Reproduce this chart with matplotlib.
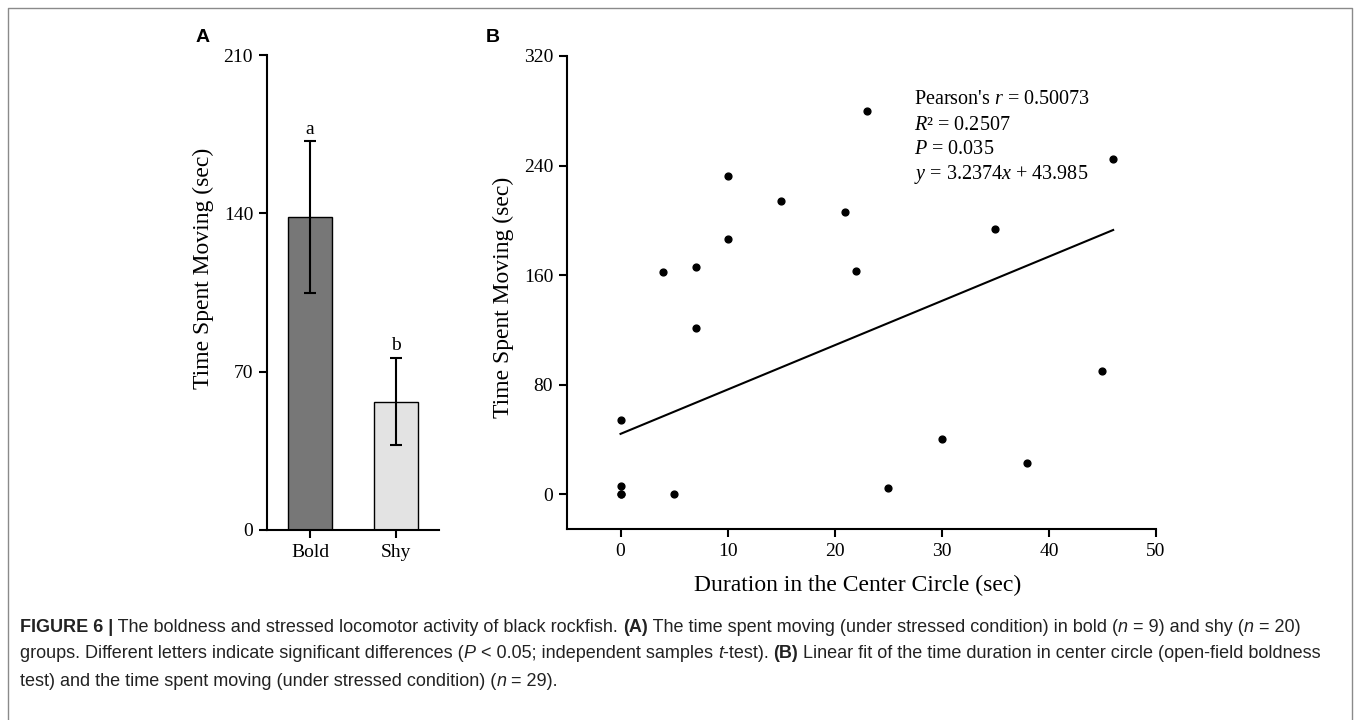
import matplotlib
matplotlib.use("Agg")
import matplotlib.pyplot as plt
from matplotlib.lines import Line2D

plt.rcParams['font.family'] = ['Liberation Serif', 'DejaVu Serif']
plt.rcParams['mathtext.fontset'] = 'custom'
plt.rcParams['mathtext.it'] = 'Liberation Serif:italic'
plt.rcParams['mathtext.rm'] = 'Liberation Serif'

# panel A data
groups = ['Bold', 'Shy']
means = [138.2, 56.8]
errs = [33.6, 19.4]
letters = ['a', 'b']
bar_colors = ['#777777', '#e3e3e3']

# panel B data
dur = [0, 0, 0, 0, 5, 4, 7, 7, 10, 10, 15, 21, 22, 23, 25, 30, 35, 38, 45, 46]
moving = [54, 5.7, 0, 0, 0, 162, 166, 121, 232, 186, 214, 206, 163, 280, 4.7, 40, 193.5, 22.7, 90, 244.6]
slope = 3.2374
intercept = 43.985
fit_text = ["Pearson's $r$ = 0.50073", "$R$\u00b2 = 0.2507", "$P$ = 0.035",
            "$y$ = 3.2374$x$ + 43.985"]

W, H = 1358, 720
fig = plt.figure(figsize=(W / 100, H / 100), dpi=100)


def px(x0, y0, x1, y1):
    return [x0 / W, 1 - y1 / H, (x1 - x0) / W, (y1 - y0) / H]


def style(ax):
    for s in ['top', 'right']:
        ax.spines[s].set_visible(False)
    for s in ['left', 'bottom']:
        ax.spines[s].set_linewidth(1.5)
    ax.tick_params(width=1.5, length=6, labelsize=14, pad=4)


# ---- A ----
A_box = (267, 55, 439, 530)
axA = fig.add_axes(px(*A_box))
xs = list(range(len(groups)))
axA.bar(xs, means, width=0.51, color=bar_colors, edgecolor='black', linewidth=1)
axA.errorbar(xs, means, yerr=errs, fmt='none', ecolor='black', elinewidth=1.5,
             capsize=4, capthick=1.5)
for i in xs:
    axA.text(i, means[i] + errs[i] + 1.5, letters[i], ha='center', va='bottom', fontsize=14)
axA.set_xlim(-0.5, 1.5)
axA.set_ylim(0, 210)
axA.set_yticks([0, 70, 140, 210])
axA.set_xticks(xs)
axA.set_xticklabels(groups)
style(axA)
axA.set_ylabel('Time Spent Moving (sec)', fontsize=17)
axA.yaxis.set_label_coords((214 - 267) / 172, 0.55)
fig.text(203 / W, 1 - 38 / H, 'A', family='Liberation Sans', weight='bold',
         fontsize=14, ha='center', va='center')

# ---- B ----
B_box = (567, 56, 1156, 529)
axB = fig.add_axes(px(*B_box))
bw, bh = B_box[2] - B_box[0], B_box[3] - B_box[1]
axB.scatter(dur, moving, s=24, color='black', zorder=3)
fx = [0, max(dur)]
axB.plot(fx, [slope * v + intercept for v in fx], color='black', lw=1.5)
axB.set_xlim(-5, 50)
axB.set_ylim(-25.5, 320)
axB.set_xticks([0, 10, 20, 30, 40, 50])
axB.set_yticks([0, 80, 160, 240, 320])
style(axB)
axB.set_ylabel('Time Spent Moving (sec)', fontsize=17)
axB.yaxis.set_label_coords((514 - 567) / bw, 0.49)
axB.set_xlabel('Duration in the Center Circle (sec)', fontsize=17)
axB.xaxis.set_label_coords((858 - 567) / bw, (529 - 575) / bh)
for k, line in enumerate(fit_text):
    axB.text((914 - 567) / bw, (529 - 100 - 25 * k) / bh, line, transform=axB.transAxes,
             fontsize=14.5, ha='left', va='center')
fig.text(493 / W, 1 - 37 / H, 'B', family='Liberation Sans', weight='bold',
         fontsize=14, ha='center', va='center')

# frame around figure
fig.add_artist(Line2D([8 / W, 8 / W, 1352 / W, 1352 / W], [0, 1 - 8 / H, 1 - 8 / H, 0],
                      transform=fig.transFigure, color='#8a8a8a', lw=1))

# caption
caption = [
    [("FIGURE 6 |", 'bold', 'normal'),
     (" The boldness and stressed locomotor activity of black rockfish. ", 'normal', 'normal'),
     ("(A)", 'bold', 'normal'),
     (" The time spent moving (under stressed condition) in bold (", 'normal', 'normal'),
     ("n", 'normal', 'italic'), (" = 9) and shy (", 'normal', 'normal'),
     ("n", 'normal', 'italic'), (" = 20)", 'normal', 'normal')],
    [("groups. Different letters indicate significant differences (", 'normal', 'normal'),
     ("P", 'normal', 'italic'), (" < 0.05; independent samples ", 'normal', 'normal'),
     ("t", 'normal', 'italic'), ("-test). ", 'normal', 'normal'),
     ("(B)", 'bold', 'normal'),
     (" Linear fit of the time duration in center circle (open-field boldness", 'normal', 'normal')],
    [("test) and the time spent moving (under stressed condition) (", 'normal', 'normal'),
     ("n", 'normal', 'italic'), (" = 29).", 'normal', 'normal')],
]
cap_size = 13
renderer = fig.canvas.get_renderer()


def text_width(s, weight, st):
    # pad with a visible char so spaces at the ends are counted
    t1 = fig.text(0, 0, 'x' + s + 'x', fontsize=cap_size, family='Liberation Sans',
                  weight=weight, style=st)
    t2 = fig.text(0, 0, 'xx', fontsize=cap_size, family='Liberation Sans',
                  weight=weight, style=st)
    w = t1.get_window_extent(renderer).width - t2.get_window_extent(renderer).width
    t1.remove()
    t2.remove()
    return w


for li, parts in enumerate(caption):
    x = 20
    y = 627 + 27 * li
    for s, wt, st in parts:
        fig.text(x / W, 1 - y / H, s, fontsize=cap_size, family='Liberation Sans',
                 weight=wt, style=st, color='#222222', va='center', ha='left')
        x += text_width(s, wt, st)

fig.savefig('out.png', dpi=100)
